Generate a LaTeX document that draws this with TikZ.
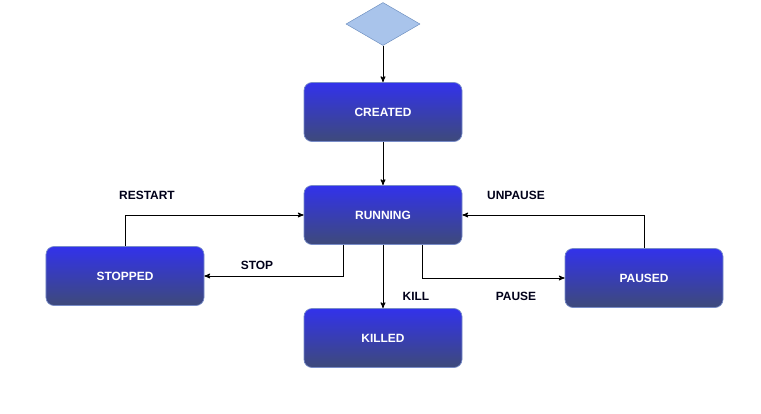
\documentclass[tikz,border=0pt]{standalone}
\usepackage{fontspec}
\setmainfont{Liberation Sans}
\usetikzlibrary{arrows,shapes.geometric}

\definecolor{boxtop}{RGB}{50,50,235}
\definecolor{boxbot}{RGB}{62,74,122}
\definecolor{boxline}{RGB}{120,140,200}
\definecolor{startfill}{RGB}{169,196,235}
\definecolor{startline}{RGB}{108,142,191}

\begin{document}
\begin{tikzpicture}[x=0.03cm,y=-0.03cm]
	\tikzstyle{state} = [draw=boxline,line width=0.6pt,rounded corners=0.24cm,
		top color=boxtop,bottom color=boxbot,text=white,
		minimum width=4.74cm,minimum height=1.77cm,
		font=\fontsize{10.2}{12}\selectfont\bfseries]
	\tikzstyle{tag} = [font=\fontsize{10.2}{12}\selectfont\bfseries,text=black!90!blue]
	\tikzstyle{edge} = [->,>=stealth',line width=0.8pt]
	\useasboundingbox (0,0) rectangle (761,413);

	\node[draw=startline,fill=startfill,shape=diamond,inner sep=0pt,
		minimum width=2.22cm,minimum height=1.29cm] (Start) at (383,24) {};

	\node[state] (Created) at (383,112) {CREATED};
	\node[state] (Running) at (383,215) {RUNNING};
	\node[state] (Stopped) at (125,276) {STOPPED};
	\node[state] (Paused) at (644,278) {PAUSED};
	\node[state] (Killed) at (383,338) {KILLED};

	\node[tag] (LRestart) at (147,195) {RESTART};
	\node[tag] (LUnpause) at (516,195) {UNPAUSE};
	\node[tag] (LStop) at (257,265) {STOP};
	\node[tag] (LKill) at (416,296) {KILL};
	\node[tag] (LPause) at (516,296) {PAUSE};

	\draw[edge] (Start) -- (Created);
	\draw[edge] (Created) -- (Running);
	\draw[edge] (Stopped.north) |- (Running.west);
	\draw[edge] ([xshift=-1.2cm]Running.south) |- (Stopped.east);
	\draw[edge] (Running) -- (Killed);
	\draw[edge] ([xshift=1.17cm]Running.south) |- (Paused.west);
	\draw[edge] (Paused.north) |- (Running.east);
\end{tikzpicture}
\end{document}
